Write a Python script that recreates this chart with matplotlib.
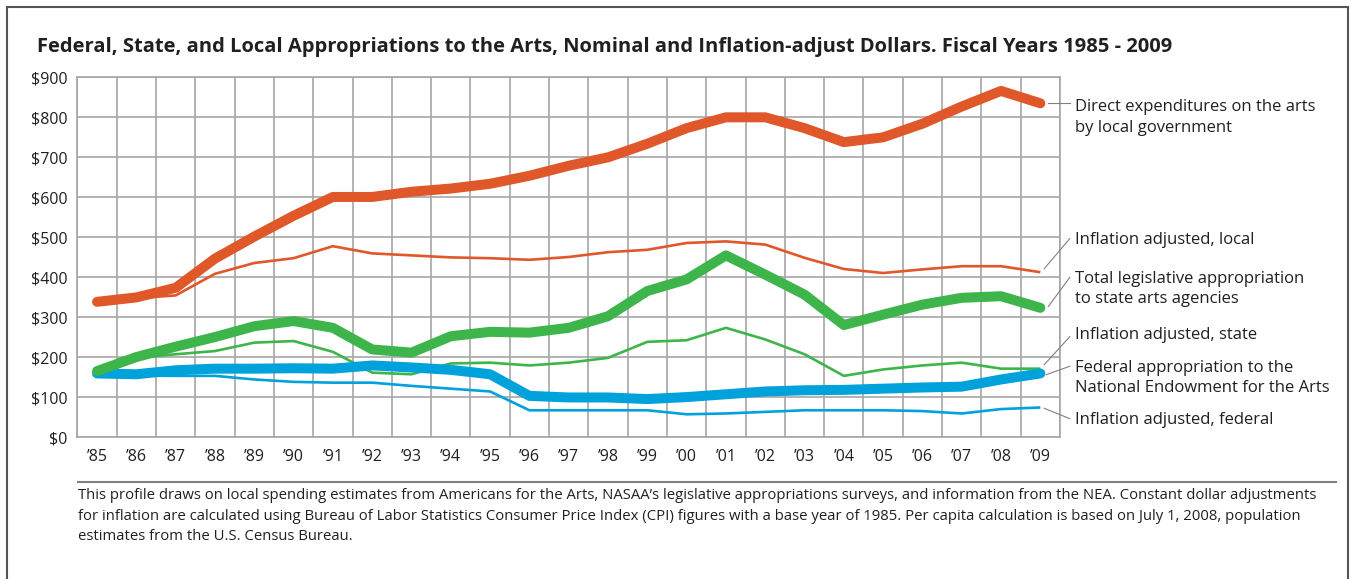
"""Federal, state and local arts appropriations, 1985-2009."""

import matplotlib.pyplot as plt
from matplotlib.patches import Rectangle

YEARS = ['’85', '’86', '’87', '’88', '’89', '’90', '’91', '’92', '’93', '’94', '’95', '’96',
         '’97', '’98', '’99', '’00', '’01', '’02', '’03', '’04', '’05', '’06', '’07', '’08', '’09']

local_direct = [339, 350, 374, 447, 502, 554, 601, 601, 614, 622, 634, 654,
                679, 700, 734, 773, 800, 800, 773, 738, 750, 784, 827, 866, 835]
local_infl = [339, 348, 355, 409, 436, 448, 478, 460, 455, 450, 448, 444,
              451, 463, 469, 486, 490, 482, 449, 421, 411, 420, 428, 428, 413]
state_total = [166, 201, 227, 251, 278, 291, 274, 220, 212, 253, 264, 262,
               274, 303, 366, 395, 455, 407, 357, 281, 307, 332, 349, 353, 324]
state_infl = [166, 199, 208, 216, 237, 241, 214, 162, 158, 185, 187, 180,
              187, 199, 239, 243, 274, 245, 208, 154, 170, 180, 187, 172, 172]
federal_nea = [160, 158, 168, 172, 172, 173, 172, 180, 175, 169, 158, 104,
               100, 100, 96, 101, 108, 115, 118, 119, 122, 125, 127, 145, 160]
federal_infl = [160, 155, 154, 154, 145, 139, 137, 137, 129, 122, 115, 68,
                68, 68, 68, 58, 60, 64, 68, 68, 68, 66, 60, 71, 75]

ORANGE = '#E0572A'
GREEN = '#3DB54A'
BLUE = '#00A2DB'
GRID = '#A6A6A6'
TEXT = '#231F20'
FONT = ['Open Sans', 'DejaVu Sans']

plt.rcParams['font.family'] = FONT

fig = plt.figure(figsize=(13.51, 5.79), dpi=100)
ax = fig.add_axes([0.0573, 0.2444, 0.7273, 0.6221])

x = list(range(len(YEARS)))
thin = dict(lw=1.9, solid_joinstyle='round', solid_capstyle='butt', zorder=3)
thick = dict(lw=7.2, solid_joinstyle='round', solid_capstyle='round', zorder=4)

ax.plot(x, federal_infl, color=BLUE, **thin)
ax.plot(x, state_infl, color=GREEN, **thin)
ax.plot(x, local_infl, color=ORANGE, **thin)
ax.plot(x, federal_nea, color=BLUE, **thick)
ax.plot(x, state_total, color=GREEN, **thick)
ax.plot(x, local_direct, color=ORANGE, **thick)

ax.set_xlim(-0.5, len(YEARS) - 0.5)
ax.set_ylim(0, 900)
ax.set_yticks(range(0, 901, 100))
ax.set_yticklabels([f'${v}' for v in range(0, 901, 100)])
ax.set_xticks(x)
ax.set_xticklabels(YEARS)
ax.set_xticks([i + 0.5 for i in range(-1, len(YEARS))], minor=True)
ax.grid(True, which='minor', axis='x', color=GRID, lw=1.2, zorder=0)
ax.grid(True, which='major', axis='y', color=GRID, lw=1.2, zorder=0)
ax.tick_params(which='both', length=0)
ax.tick_params(axis='y', pad=7, labelsize=11.5, labelcolor=TEXT)
ax.tick_params(axis='x', pad=8, labelsize=11.5, labelcolor=TEXT)
for s in ax.spines.values():
    s.set_color(GRID)
    s.set_linewidth(1.2)

# right-hand labels with leader lines
labels = [
    ('Direct expenditures on the arts\nby local government', (24.2, 835), (24.75, 835), 799),
    ('Inflation adjusted, local', (24.1, 422), (24.75, 497), 494),
    ('Total legislative appropriation\nto state arts agencies', (24.2, 327), (24.75, 400), 371),
    ('Inflation adjusted, state', (24.1, 182), (24.75, 252), 256),
    ('Federal appropriation to the\nNational Endowment for the Arts', (24.15, 157), (24.75, 178), 149),
    ('Inflation adjusted, federal', (24.1, 73), (24.75, 47), 44),
]
for text, start, end, ty in labels:
    ax.plot([start[0], end[0]], [start[1], end[1]], color='#808080', lw=0.8,
            clip_on=False, zorder=5)
    ax.text(24.88, ty, text, ha='left', va='center', fontsize=12,
            color=TEXT, linespacing=1.38, clip_on=False)

fig.text(37 / 1351, 1 - 47 / 579,
         'Federal, State, and Local Appropriations to the Arts, Nominal and '
         'Inflation-adjust Dollars. Fiscal Years 1985 - 2009',
         ha='left', va='center', fontsize=14.5, fontweight='bold', color=TEXT)

# footer rule and note
fig.add_artist(plt.Line2D([78 / 1351, 1336 / 1351], [1 - 482 / 579, 1 - 482 / 579],
                          color='#7F7F7F', lw=1.5))
note = ('This profile draws on local spending estimates from Americans for the Arts, '
        'NASAA’s legislative appropriations surveys, and information from the NEA. '
        'Constant dollar adjustments\nfor inflation are calculated using Bureau of Labor '
        'Statistics Consumer Price Index (CPI) figures with a base year of 1985. Per capita '
        'calculation is based on July 1, 2008, population\nestimates from the U.S. Census Bureau.')
fig.text(78 / 1351, 1 - 488 / 579, note, ha='left', va='top', fontsize=10.7,
         color=TEXT, linespacing=1.52)

# outer frame
fig.add_artist(Rectangle((7 / 1351, -0.05), (1348 - 7) / 1351, 1.05 - 7 / 579,
                         transform=fig.transFigure, fill=False,
                         edgecolor='#555555', lw=1.5))

fig.savefig('out.png', dpi=100)
